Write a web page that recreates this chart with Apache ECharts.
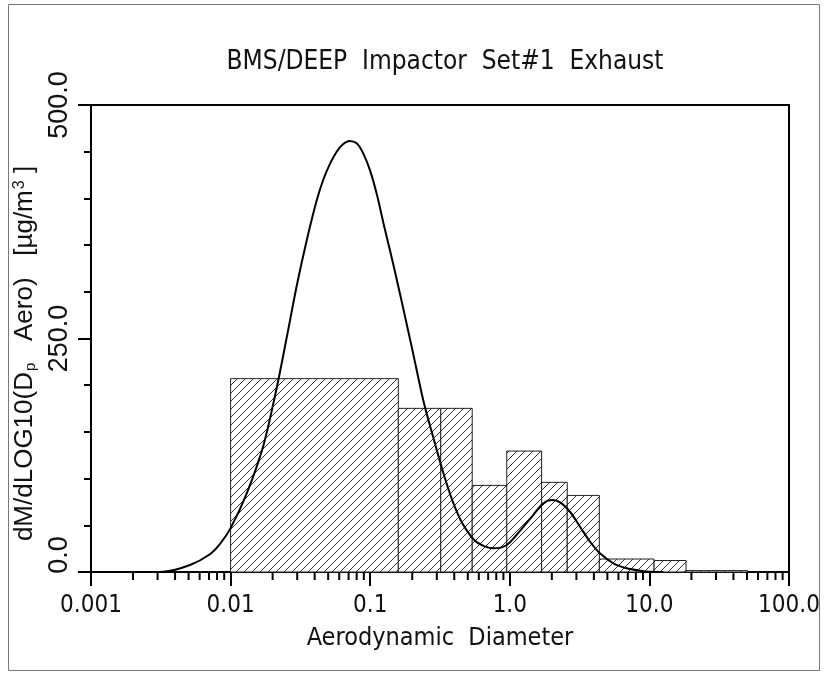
<!DOCTYPE html>
<html>
<head>
<meta charset="utf-8">
<script src="https://cdn.jsdelivr.net/npm/echarts@6/dist/echarts.min.js"></script>
<style>
html,body{margin:0;padding:0;background:#fff;}
#chart{width:828px;height:675px;}
</style>
</head>
<body>
<div id="chart"></div>
<script>
// ---- data ----
const binLower = [0.01, 0.159, 0.320, 0.538, 0.951, 1.69, 2.58, 4.38, 10.8, 18.3];
const binUpper = [0.159, 0.320, 0.538, 0.951, 1.69, 2.58, 4.38, 10.8, 18.3, 50.6];
const binValues = [207, 175.2, 175.2, 92.7, 129.5, 96, 82, 13.9, 12.3, 1.5];

const curveX = [0.00224, 0.0033, 0.00512, 0.00711, 0.0084, 0.01, 0.01303, 0.01714, 0.02138, 0.02523, 0.02972,
  0.03508, 0.0414, 0.0461, 0.0515, 0.0575, 0.0638, 0.0711, 0.080, 0.0893, 0.0997, 0.1113, 0.1242, 0.1466, 0.1726,
  0.2037, 0.2399, 0.2831, 0.3342, 0.3936, 0.4645, 0.5794, 0.762, 0.9506, 1.183,
  1.472, 1.738, 1.995, 2.291, 2.698, 3.184, 3.758, 4.426, 5.521, 6.871, 8.57, 10.1, 12.6];
const curveY = [0, 0.4, 7.5, 19, 30, 47, 84, 135, 197, 251, 306,
  355, 398, 420, 437, 450, 458, 461.5, 459, 448, 430, 405, 374, 329, 282,
  233, 184, 144, 106, 74, 50.3, 32, 25.3, 28.9, 44,
  61, 73.5, 77, 74.6, 64.5, 48.5, 32.4, 20, 9.3, 4, 1.4, 0.3, 0];

const xTickValues = [0.001, 0.01, 0.1, 1, 10, 100];
const xTickLabels = ['0.001', '0.01', '0.1', '1.0', '10.0', '100.0'];

// minor tick positions of the log axis (2..9 within each decade)
const minorTicks = [];
for (let d = -3; d < 2; d++) for (let k = 2; k <= 9; k++) minorTicks.push(+(k * Math.pow(10, d)).toPrecision(3));

const NARROW = '"DejaVu Sans Condensed","Liberation Sans Narrow","Liberation Sans",sans-serif';
const REG = '"Liberation Sans",Arial,sans-serif';

// hatch pattern
const pc = document.createElement('canvas');
pc.width = 8; pc.height = 8;
const g = pc.getContext('2d');
g.fillStyle = '#fff'; g.fillRect(0, 0, 8, 8);
g.strokeStyle = '#333'; g.lineWidth = 1;
g.beginPath();
g.moveTo(0, 8); g.lineTo(8, 0);
g.moveTo(-1, 1); g.lineTo(1, -1);
g.moveTo(7, 9); g.lineTo(9, 7);
g.stroke();
const hatch = { image: pc, repeat: 'repeat' };

const barData = binLower.map((x0, i) => [x0, binUpper[i], binValues[i]]);
const curveData = curveX.map((x, i) => [x, curveY[i]]);

const chart = echarts.init(document.getElementById('chart'), null, { renderer: 'canvas' });
chart.setOption({
  animation: false,
  backgroundColor: '#fff',
  title: {
    text: 'BMS/DEEP  Impactor  Set#1  Exhaust',
    left: 440, top: 44, textAlign: 'center',
    textStyle: { fontFamily: NARROW, fontSize: 26, fontWeight: 'normal', color: '#111' }
  },
  grid: { left: 91, right: 39, top: 105, bottom: 103, show: true, borderColor: '#000', borderWidth: 2, backgroundColor: 'transparent' },
  xAxis: [{
    type: 'log', logBase: 10, min: 0.001, max: 100,
    name: 'Aerodynamic  Diameter', nameLocation: 'middle', nameGap: 54,
    nameTextStyle: { fontFamily: NARROW, fontSize: 25, color: '#111' },
    axisLine: { show: true, onZero: false, lineStyle: { color: '#000', width: 2 } },
    axisTick: { show: true, inside: false, length: 14, lineStyle: { color: '#000', width: 2 } },
    minorTick: { show: false },
    splitLine: { show: false },
    axisLabel: {
      margin: 22, fontFamily: NARROW, fontSize: 24, color: '#111',
      formatter: v => { const i = xTickValues.findIndex(t => Math.abs(Math.log10(t) - Math.log10(v)) < 1e-6); return i >= 0 ? xTickLabels[i] : ''; }
    }
  }],
  yAxis: [{
    type: 'value', min: 0, max: 500, interval: 250,
    name: '{a|dM/dLOG10(D}{sub|p}{a|   Aero)   [µg/m}{sup|3}{a| ]}{pad|}',
    nameLocation: 'middle', nameGap: 46, nameRotate: 90,
    nameTextStyle: {
      fontFamily: REG, fontSize: 26, color: '#111',
      rich: {
        a: { fontFamily: REG, fontSize: 26, color: '#111' },
        sub: { fontFamily: REG, fontSize: 15, color: '#111', verticalAlign: 'bottom', padding: [12, 0, 0, 1] },
        sup: { fontFamily: REG, fontSize: 16, color: '#111', verticalAlign: 'top', padding: [0, 0, 10, 1] },
        pad: { width: 30 }
      }
    },
    axisLine: { show: true, lineStyle: { color: '#000', width: 2 } },
    axisTick: { show: true, inside: false, length: 13, lineStyle: { color: '#000', width: 2 } },
    minorTick: { show: true, splitNumber: 5, length: 7, lineStyle: { color: '#000', width: 2 } },
    splitLine: { show: false },
    axisLabel: {
      rotate: 90, margin: 18, fontFamily: REG, fontSize: 27, color: '#111',
      formatter: v => v === 0 ? '{z|0.0}' : v.toFixed(1),
      rich: { z: { fontFamily: REG, fontSize: 27, color: '#111', padding: [0, 0, 0, 34] } }
    }
  }],
  graphic: [{
    type: 'rect', silent: true, z: -1,
    shape: { x: 8.5, y: 4.5, width: 811, height: 666 },
    style: { fill: 'none', stroke: '#777', lineWidth: 1 }
  }],
  series: [
    {
      type: 'custom', name: 'bins', data: barData, encode: { x: [0, 1], y: 2 }, z: 2,
      renderItem: (params, api) => {
        const p0 = api.coord([api.value(0), api.value(2)]);
        const p1 = api.coord([api.value(1), 0]);
        return {
          type: 'rect',
          shape: { x: p0[0], y: p0[1], width: p1[0] - p0[0], height: p1[1] - p0[1] },
          style: { fill: hatch, stroke: '#222', lineWidth: 1 }
        };
      }
    },
    {
      type: 'custom', name: 'minorTicks', data: minorTicks.map(v => [v]), encode: { x: 0 }, z: 5, silent: true,
      clip: false,
      renderItem: (params, api) => {
        const p = api.coord([api.value(0), 0]);
        return { type: 'line', shape: { x1: p[0], y1: p[1], x2: p[0], y2: p[1] + 8 }, style: { stroke: '#000', lineWidth: 2 } };
      }
    },
    {
      type: 'line', name: 'fit', data: curveData, smooth: 0.3, symbol: 'none', z: 4,
      lineStyle: { color: '#000', width: 2 }
    }
  ]
});
</script>
</body>
</html>
